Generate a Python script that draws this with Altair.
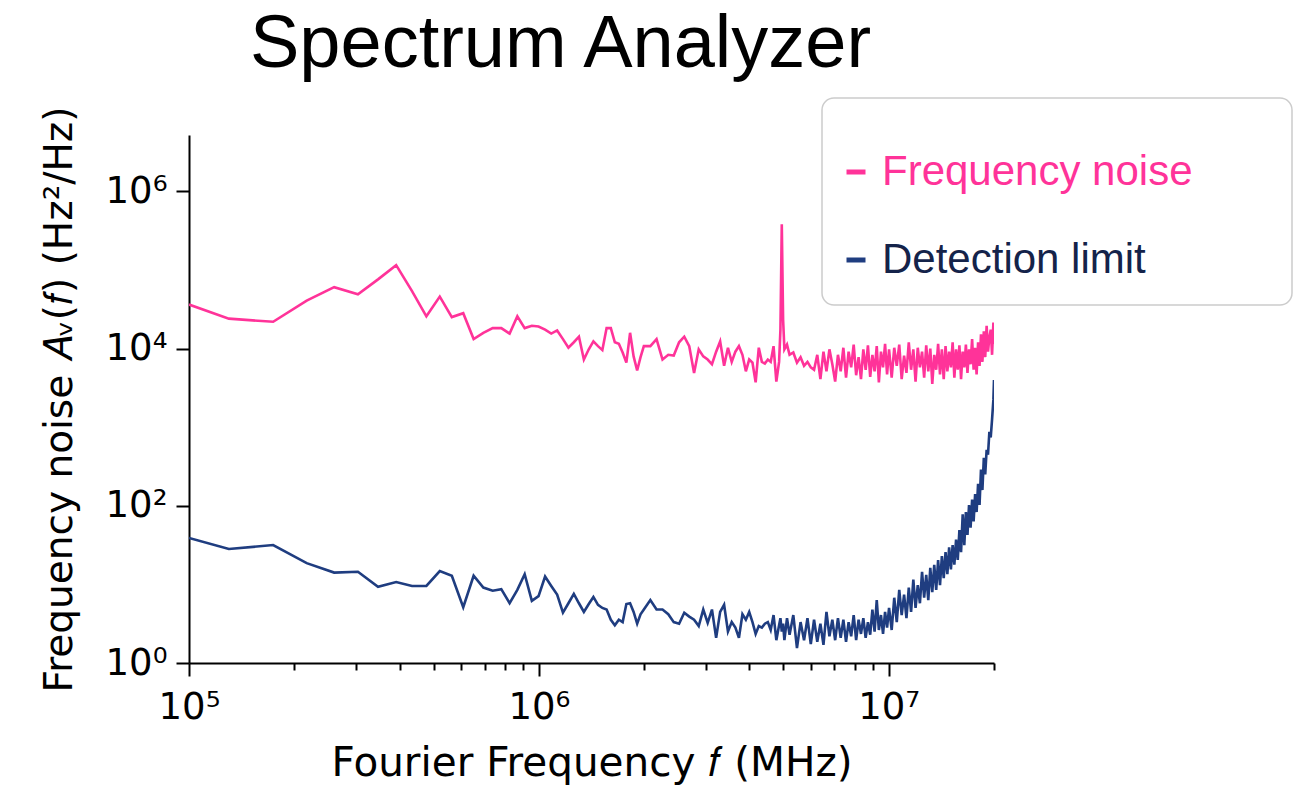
import altair as alt
import pandas as pd

# Sampled Fourier frequencies (kHz); both traces share the analyzer bins.
freq_khz = [
    100, 130, 174, 217, 260, 304, 347, 391, 434, 477, 521, 564, 608, 651, 694,
    738, 781, 825, 868, 911, 955, 998, 1042, 1085, 1128, 1172, 1215, 1259, 1302,
    1345, 1389, 1432, 1476, 1519, 1562, 1606, 1649, 1693, 1736, 1779, 1823, 1866,
    1910, 1953, 1996,
    2083, 2170, 2257, 2344, 2430, 2517, 2604, 2691, 2778, 2864, 2951, 3038, 3125,
    3212, 3298, 3385, 3472, 3559, 3646, 3732, 3819, 3906, 3993, 4080, 4166, 4253,
    4340, 4427, 4514, 4600, 4687, 4774, 4861, 4904, 4948, 4991, 5034, 5121, 5208,
    5338, 5468, 5599, 5729, 5859, 5989, 6119, 6250, 6380, 6510, 6640, 6770, 6901,
    7031, 7161, 7291, 7421, 7552, 7682, 7812, 7942, 8072, 8203, 8333, 8463, 8593,
    8723, 8854, 8984, 9114, 9244, 9374, 9505, 9635, 9765, 9895, 10025,
    10199, 10373, 10546, 10720, 10893, 11067, 11241, 11414, 11588, 11761, 11935,
    12109, 12282, 12456, 12629, 12803, 12977, 13150, 13324, 13497, 13671, 13845,
    14018, 14192, 14365, 14539, 14713, 14886, 15060, 15233, 15407, 15581, 15754,
    15928, 16101, 16275, 16449, 16622, 16796, 16969, 17143, 17317, 17490, 17664,
    17837, 18011, 18185, 18358, 18532, 18705, 18879, 19053, 19226, 19400, 19573,
    19747, 19921, 20000,
]

# Frequency noise PSD, log10(Hz^2/Hz)
noise_log = [
    4.56, 4.38, 4.34, 4.61, 4.78, 4.69, 4.88, 5.06, 4.73, 4.41, 4.66, 4.40, 4.45,
    4.12, 4.20, 4.26, 4.26, 4.19, 4.41, 4.26, 4.29, 4.28, 4.24, 4.19, 4.23, 4.12,
    4.01, 4.08, 4.15, 3.86, 3.99, 4.09, 4.03, 3.98, 4.26, 4.26, 4.08, 4.06, 3.95,
    3.82, 4.20, 3.90, 3.72, 3.89, 4.03,
    4.03, 4.12, 3.86, 3.92, 3.91, 4.08, 4.15, 4.03, 3.69, 3.99, 3.90, 3.86, 3.80,
    3.96, 4.09, 3.78, 4.01, 3.83, 3.96, 4.03, 3.92, 3.71, 3.86, 3.82, 3.57, 4.01,
    3.83, 3.81, 3.86, 3.83, 4.03, 3.58, 3.83, 4.24, 5.58, 4.37, 3.99, 4.05, 3.92,
    3.95, 3.82, 3.89, 3.78, 3.83, 3.76, 3.73, 3.92, 3.61, 3.96,
    3.71, 3.99, 3.80, 3.58, 3.92, 3.71, 4.01, 3.63, 3.96, 3.76, 4.05, 3.66, 3.89,
    3.61, 3.99, 3.73, 4.04, 3.64, 3.92, 3.71, 4.03, 3.57, 3.96, 3.76, 4.06, 3.67,
    3.99,
    3.63, 4.01, 3.78, 4.05, 3.61, 3.91, 3.69, 4.08, 3.73, 3.99,
    3.58, 4.01, 3.76, 3.96, 3.63, 4.04, 3.71, 4.00, 3.55, 3.92,
    3.73, 4.06, 3.67, 3.99, 3.61, 4.03, 3.71, 3.96, 3.76, 4.08,
    3.63, 3.99, 3.73, 4.04, 3.61, 3.96, 3.76, 4.05, 3.69, 3.99,
    3.80, 4.12, 3.73, 4.01, 3.67, 4.08, 3.78, 4.18, 3.83, 4.22,
    3.89, 4.29, 3.96, 4.14, 4.24, 3.92, 4.33, 4.05,
]

# Detection limit PSD, log10(Hz^2/Hz)
limit_log = [
    1.59, 1.45, 1.50, 1.27, 1.15, 1.16, 0.97, 1.03, 0.98, 0.98, 1.17, 1.11, 0.71,
    1.11, 0.96, 0.92, 0.94, 0.76, 0.93, 1.13, 0.79, 0.85, 1.10, 0.98, 0.87, 0.64,
    0.76, 0.88, 0.76, 0.65, 0.75, 0.84, 0.74, 0.70, 0.68, 0.55, 0.48, 0.55, 0.52,
    0.75, 0.76, 0.65, 0.50, 0.62, 0.68,
    0.80, 0.68, 0.68, 0.62, 0.52, 0.50, 0.64, 0.59, 0.55, 0.47, 0.68, 0.51, 0.68,
    0.32, 0.65, 0.74, 0.40, 0.52, 0.45, 0.32, 0.62, 0.55, 0.65, 0.52, 0.37, 0.47,
    0.45, 0.50, 0.52, 0.42, 0.61, 0.29, 0.48, 0.57, 0.40, 0.50, 0.29, 0.57, 0.36,
    0.61, 0.19, 0.52, 0.29, 0.57, 0.24, 0.55, 0.27, 0.50, 0.23,
    0.65, 0.34, 0.55, 0.29, 0.57, 0.32, 0.55, 0.27, 0.52, 0.34, 0.61, 0.29, 0.55,
    0.37, 0.57, 0.32, 0.52, 0.36, 0.68, 0.40, 0.80, 0.42, 0.61, 0.37, 0.65, 0.45,
    0.70,
    0.42, 0.83, 0.52, 0.93, 0.61, 0.87, 0.57, 0.96, 0.65, 1.06,
    0.70, 0.99, 0.76, 1.16, 0.83, 1.12, 0.80, 1.21, 0.90, 1.25,
    0.93, 1.31, 0.99, 1.36, 1.08, 1.41, 1.13, 1.47, 1.19, 1.50,
    1.25, 1.57, 1.31, 1.69, 1.41, 1.89, 1.50, 1.92, 1.63, 2.01,
    1.72, 2.08, 1.80, 2.15, 1.92, 2.28, 2.01, 2.46, 2.20, 2.61,
    2.40, 2.71, 2.65, 2.94, 2.87, 3.10, 3.35, 3.60,
]

series_names = ["Frequency noise", "Detection limit"]
series_colors = ["#ff3399", "#1f3d80"]

x_ticks = [1e5, 2e5, 3e5, 4e5, 5e5, 6e5, 7e5, 8e5, 9e5,
           1e6, 2e6, 3e6, 4e6, 5e6, 6e6, 7e6, 8e6, 9e6,
           1e7, 2e7]
y_ticks = [1, 1e2, 1e4, 1e6]

assert len(freq_khz) == len(noise_log) == len(limit_log)

rows = []
for f, a, b in zip(freq_khz, noise_log, limit_log):
    rows.append({"freq": f * 1e3, "psd": 10 ** a, "series": series_names[0]})
    rows.append({"freq": f * 1e3, "psd": 10 ** b, "series": series_names[1]})
df = pd.DataFrame(rows)

sup = "['⁰','¹','²','³','⁴','⁵','⁶','⁷','⁸','⁹']"
major = "datum.value == 1e5 || datum.value == 1e6 || datum.value == 1e7"

x_axis = alt.Axis(
    values=x_ticks,
    labelExpr=f"({major}) ? '10' + {sup}[round(log(datum.value) / LN10)] : ''",
    tickSize={"condition": {"test": major, "value": 13}, "value": 7},
    tickWidth=2, tickColor="black", domainColor="black", domainWidth=2,
    labelFont="DejaVu Sans", labelFontSize=37, labelColor="black",
    labelPadding=13, labelFlush=False, labelOverlap=False,
    title="Fourier Frequency 𝑓 (MHz)", titleFont="DejaVu Sans",
    titleFontSize=40.5, titleFontWeight="normal", titleColor="black",
    titlePadding=18, grid=False,
)

y_axis = alt.Axis(
    values=y_ticks,
    labelExpr=f"'10' + {sup}[round(log(datum.value) / LN10)]",
    tickSize=13, tickWidth=2, tickColor="black", domainColor="black",
    domainWidth=2, labelFont="DejaVu Sans", labelFontSize=37,
    labelColor="black", labelPadding=9, labelFlush=False, labelOverlap=False,
    title="Frequency noise 𝐴ᵥ(𝑓) (Hz²/Hz)", titleFont="DejaVu Sans",
    titleFontSize=39, titleFontWeight="normal", titleColor="black",
    titlePadding=26, grid=False,
)

# Blank spacer heading: widens the legend frame and leaves room above the entries.
legend_spacer = "\u2800" * 30

legend = alt.Legend(
    orient="none", legendX=633, legendY=-37,
    title=legend_spacer, titleFont="DejaVu Sans", titleFontSize=18,
    titlePadding=11, titleLimit=1000,
    symbolType="stroke", symbolStrokeWidth=5, symbolSize=361, symbolOffset=-11,
    labelFont="Liberation Sans", labelFontSize=42, labelOffset=5, labelLimit=1000,
    labelColor={"expr": "datum.label == 'Frequency noise' ? '#ff3399' : '#14234a'"},
    rowPadding=46, padding=24,
    fillColor="white", strokeColor="#cccccc", cornerRadius=12,
)

chart = (
    alt.Chart(df)
    .mark_line(strokeWidth=2.6, clip=True)
    .encode(
        x=alt.X("freq:Q", scale=alt.Scale(type="log", domain=[1e5, 2e7], nice=False),
                axis=x_axis),
        y=alt.Y("psd:Q", scale=alt.Scale(type="log", domain=[1, 5.2e6], nice=False),
                axis=y_axis),
        color=alt.Color("series:N",
                        scale=alt.Scale(domain=series_names, range=series_colors),
                        legend=legend),
    )
    .properties(
        width=805, height=528,
        padding={"left": 189, "top": 135, "right": 303, "bottom": 138},
        autosize=alt.AutoSizeParams(type="none"),
        title=alt.TitleParams(
            "Spectrum Analyzer", font="Liberation Sans", fontSize=74,
            fontWeight="normal", color="black", anchor="start", frame="group",
            dx=61, dy=54, offset=10, baseline="alphabetic",
        ),
        background="white",
    )
    .configure_view(stroke=None)
    .configure_legend(strokeWidth=1.5)
)

chart.save("out.html", embed_options={"renderer": "svg", "actions": False})
